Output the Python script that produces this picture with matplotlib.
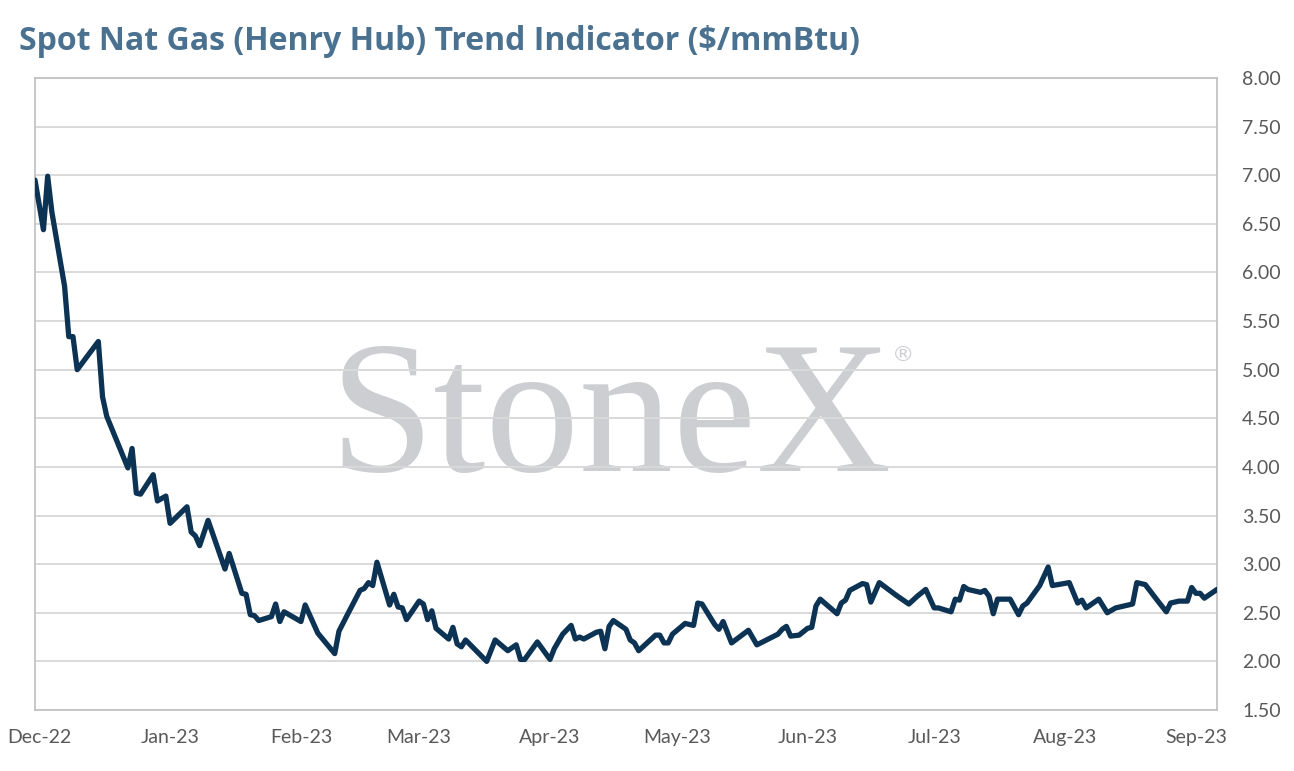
import matplotlib
matplotlib.use("Agg")
import matplotlib.pyplot as plt
import matplotlib.dates as mdates
import pandas as pd

dates = [
    "2022-11-30", "2022-12-02", "2022-12-03", "2022-12-04", "2022-12-07", "2022-12-08",
    "2022-12-09", "2022-12-10", "2022-12-15", "2022-12-16", "2022-12-17", "2022-12-22",
    "2022-12-23", "2022-12-24", "2022-12-25", "2022-12-28", "2022-12-29", "2022-12-31",
    "2023-01-01", "2023-01-05", "2023-01-06", "2023-01-07", "2023-01-08", "2023-01-10",
    "2023-01-14", "2023-01-15", "2023-01-18", "2023-01-19", "2023-01-20", "2023-01-21",
    "2023-01-22", "2023-01-25", "2023-01-26", "2023-01-27", "2023-01-28", "2023-02-01",
    "2023-02-02", "2023-02-05", "2023-02-09", "2023-02-10", "2023-02-12", "2023-02-15",
    "2023-02-16", "2023-02-17", "2023-02-18", "2023-02-19", "2023-02-22", "2023-02-23",
    "2023-02-24", "2023-02-25", "2023-02-26", "2023-03-01", "2023-03-02", "2023-03-03",
    "2023-03-04", "2023-03-05", "2023-03-08", "2023-03-09", "2023-03-10", "2023-03-11",
    "2023-03-12", "2023-03-17", "2023-03-19", "2023-03-22", "2023-03-24", "2023-03-25",
    "2023-03-26", "2023-03-29", "2023-04-01", "2023-04-02", "2023-04-04", "2023-04-06",
    "2023-04-07", "2023-04-08", "2023-04-09", "2023-04-12", "2023-04-13", "2023-04-14",
    "2023-04-15", "2023-04-16", "2023-04-19", "2023-04-20", "2023-04-21", "2023-04-22",
    "2023-04-26", "2023-04-27", "2023-04-28", "2023-04-29", "2023-04-30", "2023-05-03",
    "2023-05-05", "2023-05-06", "2023-05-07", "2023-05-10", "2023-05-11", "2023-05-12",
    "2023-05-14", "2023-05-18", "2023-05-20", "2023-05-25", "2023-05-26", "2023-05-27",
    "2023-05-28", "2023-05-30", "2023-06-01", "2023-06-02", "2023-06-03", "2023-06-04",
    "2023-06-08", "2023-06-09", "2023-06-10", "2023-06-11", "2023-06-14", "2023-06-15",
    "2023-06-16", "2023-06-18", "2023-06-22", "2023-06-25", "2023-06-27", "2023-06-29",
    "2023-07-01", "2023-07-02", "2023-07-05", "2023-07-06", "2023-07-07", "2023-07-08",
    "2023-07-09", "2023-07-12", "2023-07-13", "2023-07-14", "2023-07-15", "2023-07-16",
    "2023-07-19", "2023-07-21", "2023-07-22", "2023-07-23", "2023-07-26", "2023-07-28",
    "2023-07-29", "2023-08-02", "2023-08-04", "2023-08-05", "2023-08-06", "2023-08-09",
    "2023-08-11", "2023-08-13", "2023-08-17", "2023-08-18", "2023-08-20", "2023-08-23",
    "2023-08-25", "2023-08-26", "2023-08-28", "2023-08-30", "2023-08-31", "2023-09-01",
    "2023-09-02", "2023-09-03", "2023-09-06",
]

prices = [
    6.95, 6.44, 6.99, 6.62, 5.86, 5.34,
    5.34, 5.00, 5.29, 4.72, 4.52, 3.99,
    4.19, 3.73, 3.72, 3.92, 3.65, 3.70,
    3.42, 3.59, 3.33, 3.29, 3.19, 3.45,
    2.95, 3.11, 2.70, 2.69, 2.48, 2.47,
    2.42, 2.46, 2.59, 2.41, 2.51, 2.41,
    2.58, 2.29, 2.08, 2.31, 2.48, 2.73,
    2.75, 2.81, 2.78, 3.02, 2.58, 2.69,
    2.56, 2.55, 2.43, 2.62, 2.59, 2.43,
    2.52, 2.34, 2.23, 2.35, 2.18, 2.15,
    2.22, 2.00, 2.22, 2.11, 2.17, 2.02,
    2.02, 2.20, 2.02, 2.13, 2.28, 2.37,
    2.23, 2.25, 2.23, 2.30, 2.31, 2.13,
    2.36, 2.42, 2.33, 2.22, 2.19, 2.11,
    2.27, 2.27, 2.19, 2.19, 2.28, 2.39,
    2.37, 2.60, 2.59, 2.38, 2.33, 2.41,
    2.19, 2.32, 2.17, 2.28, 2.33, 2.36,
    2.26, 2.27, 2.34, 2.35, 2.57, 2.64,
    2.49, 2.60, 2.63, 2.73, 2.80, 2.79,
    2.61, 2.81, 2.68, 2.59, 2.67, 2.74,
    2.55, 2.55, 2.51, 2.64, 2.63, 2.77,
    2.74, 2.71, 2.73, 2.67, 2.49, 2.64,
    2.64, 2.48, 2.57, 2.60, 2.78, 2.97,
    2.78, 2.81, 2.60, 2.63, 2.55, 2.64,
    2.50, 2.55, 2.59, 2.81, 2.79, 2.62,
    2.51, 2.60, 2.62, 2.62, 2.76, 2.70,
    2.70, 2.65, 2.74,
]

y_ticks = [1.50, 2.00, 2.50, 3.00, 3.50, 4.00, 4.50, 5.00, 5.50, 6.00, 6.50, 7.00, 7.50, 8.00]
title = "Spot Nat Gas (Henry Hub) Trend Indicator ($/mmBtu)"

x = pd.to_datetime(dates)

fig = plt.figure(figsize=(12.94, 7.71), dpi=100)
ax = fig.add_axes([35 / 1294, 1 - 710 / 771, (1217 - 35) / 1294, (710 - 78) / 771])

ax.plot(x, prices, color="#0d3354", linewidth=3.8, solid_joinstyle="round",
        solid_capstyle="round", zorder=3)

ax.set_xlim(x[0], x[-1])
ax.set_ylim(1.5, 8.0)
ax.set_yticks(y_ticks)
ax.yaxis.set_major_formatter(matplotlib.ticker.FormatStrFormatter("%.2f"))
ax.yaxis.tick_right()
ax.xaxis.set_major_locator(mdates.MonthLocator())
ax.xaxis.set_major_formatter(mdates.DateFormatter("%b-%y"))

ax.set_axisbelow(True)
ax.grid(axis="y", color="#d9d9d9", linewidth=1.4)
ax.grid(axis="x", visible=False)
for s in ax.spines.values():
    s.set_color("#bfbfbf")
    s.set_linewidth(1.2)

ax.tick_params(axis="both", length=0, labelsize=14, labelcolor="#595959")
ax.tick_params(axis="y", pad=18)
ax.tick_params(axis="x", pad=14)
for lbl in ax.get_xticklabels() + ax.get_yticklabels():
    lbl.set_fontfamily("Lato")

# watermark
ax.text(0.487, 0.378, "StoneX", transform=ax.transAxes, fontsize=135,
        family="Liberation Serif", color="#cdced2", ha="center", va="baseline",
        zorder=0.1)
ax.text(0.734, 0.562, "®", transform=ax.transAxes, fontsize=16,
        family="DejaVu Sans", color="#cdced2", ha="center", va="center", zorder=0.1)

fig.text(19 / 1294, 1 - 41 / 771, title, fontsize=23, fontweight="bold",
         family="Open Sans", color="#4a7190", ha="left", va="center")

fig.savefig("out.png", dpi=100)
